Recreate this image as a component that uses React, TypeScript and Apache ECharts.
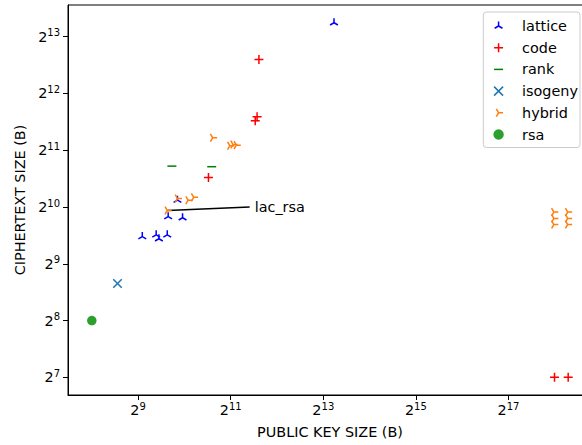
import React, { useEffect, useRef } from "react";
import * as echarts from "echarts";

// ---- data (bytes) ----
const seriesNames = ["lattice", "code", "rank", "isogeny", "hybrid", "rsa"];
const seriesColors = ["#0000ff", "#ff0000", "#008000", "#1f77b4", "#ff7f0e", "#2ca02c"];

const latticePk = [545, 671, 699, 792, 803, 996, 923, 9616];
const latticeCt = [714, 729, 695, 729, 910, 898, 1113, 9720];
const codePk = [3125, 3040, 2957, 1468, 261120, 320400];
const codeCt = [6208, 3082, 2936, 1468, 128, 128];
const rankPk = [849, 1541];
const rankCt = [1687, 1675];
const isogenyPk = [376];
const isogenyCt = [402];
const hybridPk = [1563, 2020, 2120, 2226, 923, 1082, 1176, 792, 258500, 258500, 258500, 318000, 318000, 318000];
const hybridCt = [2385, 2165, 2195, 2180, 1136, 1113, 1152, 982, 962, 891, 826, 962, 891, 826];
const rsaPk = [256];
const rsaCt = [256];

const xTickExponents = [9, 11, 13, 15, 17];
const yTickExponents = [7, 8, 9, 10, 11, 12, 13];

const annotationText = "lac_rsa";
const annotationPoint = [792, 982];
const annotationTextAt = [2720, 1024];

const xName = "PUBLIC KEY SIZE (B)";
const yName = "CIPHERTEXT SIZE (B)";

// ---- styling ----
const FONT = "DejaVu Sans";
const FS = 14.4;
const SYMBOLS = [
  "path://M10,10L10,0M10,10L1.34,15M10,10L18.66,15M0,0L0,0M20,20L20,20",
  "path://M10,0L10,20M0,10L20,10",
  "path://M0,10L20,10M0,0L0,0M20,20L20,20",
  "path://M0,0L20,20M20,0L0,20",
  "path://M10,10L20,10M10,10L5,1.34M10,10L5,18.66M0,0L0,0M20,20L20,20",
  "circle",
];
const SIZES = [9, 9, 9, 8.5, 9, 9.5];

const pk = [latticePk, codePk, rankPk, isogenyPk, hybridPk, rsaPk];
const ct = [latticeCt, codeCt, rankCt, isogenyCt, hybridCt, rsaCt];

export default function App() {
  const ref = useRef<HTMLDivElement>(null);
  useEffect(() => {
    if (!ref.current) return;
    const chart = echarts.init(ref.current, null, { renderer: "svg" });
    const l2 = (v: number) => Math.log2(v);
    const allX = pk.flat().map(l2);
    const allY = ct.flat().map(l2);
    const xmin0 = Math.min(...allX), xmax0 = Math.max(...allX);
    const ymin0 = Math.min(...allY), ymax0 = Math.max(...allY);
    const mx = 0.05 * (xmax0 - xmin0), my = 0.05 * (ymax0 - ymin0);

    const rich = {
      b: { fontFamily: FONT, fontSize: FS, lineHeight: 18, color: "#000" },
      s: { fontFamily: FONT, fontSize: 10, lineHeight: 10, verticalAlign: "top", color: "#000" },
    };
    const fmt = (v: number) => `{b|2}{s|${v}}`;

    const series: any[] = seriesNames.map((name, i) => ({
      name,
      type: "scatter",
      symbol: SYMBOLS[i],
      symbolSize: SIZES[i],
      data: pk[i].map((p, j) => [l2(p), l2(ct[i][j])]),
      itemStyle: {
        color: seriesColors[i],
        borderColor: seriesColors[i],
        borderWidth: i === 5 ? 0 : 1.5,
        opacity: 1,
      },
      emphasis: { disabled: true },
      z: 2 + i,
    }));
    series[4].markLine = {
      silent: true,
      symbol: ["none", "none"],
      animation: false,
      lineStyle: { color: "#000", width: 1.5, type: "solid" },
      label: {
        show: true,
        position: "end",
        formatter: annotationText,
        color: "#000",
        fontFamily: FONT,
        fontSize: FS,
        distance: 5,
      },
      emphasis: { disabled: true },
      data: [
        [
          { coord: [l2(annotationPoint[0]), l2(annotationPoint[1])] },
          { coord: [l2(annotationTextAt[0]), l2(annotationTextAt[1])] },
        ],
      ],
    };

    chart.setOption({
      animation: false,
      textStyle: { fontFamily: FONT },
      grid: {
        left: 68,
        top: 5,
        bottom: 50,
        right: -10,
        show: true,
        borderColor: "#000",
        borderWidth: 1,
        containLabel: false,
        outerBoundsMode: "none",
      },
      legend: {
        orient: "vertical",
        right: 2,
        top: 12,
        data: seriesNames,
        itemWidth: 31,
        itemHeight: 9,
        itemGap: 7.7,
        padding: [7, 2, 6, 10],
        backgroundColor: "rgba(255,255,255,0.8)",
        borderColor: "#cccccc",
        borderWidth: 1,
        borderRadius: 3,
        selectedMode: false,
        textStyle: { fontFamily: FONT, fontSize: FS, color: "#000", padding: [0, 0, 0, 3] },
        itemStyle: { borderWidth: 1.5 },
      },
      xAxis: {
        type: "value",
        min: xmin0 - mx,
        max: xmax0 + mx,
        name: xName,
        nameLocation: "middle",
        nameGap: 30,
        nameTextStyle: { fontFamily: FONT, fontSize: FS, color: "#000" },
        axisLine: { show: true, lineStyle: { color: "#000", width: 1 } },
        axisTick: { show: true, inside: false, length: 5, customValues: xTickExponents, lineStyle: { color: "#000" } },
        axisLabel: { customValues: xTickExponents, formatter: fmt, rich, margin: 6 },
        splitLine: { show: false },
      },
      yAxis: {
        type: "value",
        min: ymin0 - my,
        max: ymax0 + my,
        name: yName,
        nameLocation: "middle",
        nameGap: 41,
        nameRotate: 90,
        nameTextStyle: { fontFamily: FONT, fontSize: FS, color: "#000" },
        axisLine: { show: true, lineStyle: { color: "#000", width: 1 } },
        axisTick: { show: true, inside: false, length: 5, customValues: yTickExponents, lineStyle: { color: "#000" } },
        axisLabel: { customValues: yTickExponents, formatter: fmt, rich, margin: 8 },
        splitLine: { show: false },
      },
      series,
    });
    return () => chart.dispose();
  }, []);
  return (
    <div
      ref={ref}
      style={{ position: "fixed", left: 0, top: 0, width: 582, height: 445, background: "#fff" }}
    />
  );
}
